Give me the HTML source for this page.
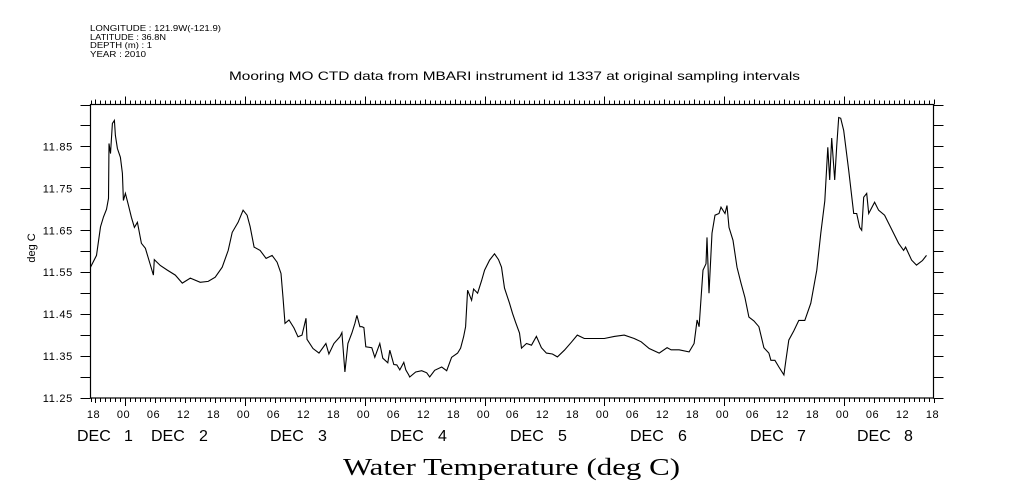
<!DOCTYPE html>
<html><head><meta charset="utf-8">
<style>
html,body{margin:0;padding:0;background:#fff;}
svg{display:block;font-family:"Liberation Sans",sans-serif;}
</style></head>
<body>
<svg id="chart" width="1009" height="504" viewBox="0 0 1009 504" xmlns="http://www.w3.org/2000/svg">
<g font-size="8.5" fill="#000">
<text x="90" y="31" textLength="131" lengthAdjust="spacingAndGlyphs">LONGITUDE : 121.9W(-121.9)</text>
<text x="90" y="40" textLength="76" lengthAdjust="spacingAndGlyphs">LATITUDE : 36.8N</text>
<text x="90" y="48" textLength="62" lengthAdjust="spacingAndGlyphs">DEPTH (m) : 1</text>
<text x="90" y="57" textLength="56" lengthAdjust="spacingAndGlyphs">YEAR : 2010</text>
</g>
<text x="229" y="80" font-size="12" textLength="571" lengthAdjust="spacingAndGlyphs">Mooring MO CTD data from MBARI instrument id 1337 at original sampling intervals</text>
<rect x="90.5" y="104.5" width="843" height="293.5" fill="none" stroke="#000" stroke-width="1.2"/>
<g id="ticks" stroke="#000" stroke-width="1"></g>
<g id="labels" font-size="11" fill="#000"></g>
<text transform="translate(35,248) rotate(-90)" font-size="11" text-anchor="middle">deg C</text>
<g font-size="16" fill="#000">
<text x="77" y="441">DEC</text><text x="124" y="441">1</text>
<text x="151" y="441">DEC</text><text x="199" y="441">2</text>
<text x="270" y="441">DEC</text><text x="318" y="441">3</text>
<text x="390" y="441">DEC</text><text x="438" y="441">4</text>
<text x="510" y="441">DEC</text><text x="558" y="441">5</text>
<text x="630" y="441">DEC</text><text x="678" y="441">6</text>
<text x="750" y="441">DEC</text><text x="797" y="441">7</text>
<text x="857" y="441">DEC</text><text x="904" y="441">8</text>
</g>
<text x="343" y="475" font-family="Liberation Serif, serif" font-size="24" textLength="337" lengthAdjust="spacingAndGlyphs">Water Temperature (deg C)</text>
<path id="series" fill="none" stroke="#000" stroke-width="1.1"/>
</svg>
<script>
const hours = [0,1.2,2,2.6,3.2,3.6,3.7,4,4.4,4.8,5,5.4,6,6.4,6.6,7,7.6,8.2,8.8,9.4,10.2,11,11.6,12.6,12.8,14,15.4,17,18.4,20,22,23.6,25,26.4,27.6,28.4,29.6,30.6,31.4,32,32.8,34,35.2,36.4,37.4,38.2,38.6,39,39.8,40.8,41.6,42.4,42.8,43.2,43.4,44.6,45.8,47.2,47.8,
48.8,50,50.4,51,51.6,52.4,53,53.4,54,54.4,54.8,55.2,56.4,57,58,58.6,59.6,60,60.8,61.4,62,62.8,63.2,63.8,64,65.2,66.4,67.4,68,69,70.4,71.4,72.4,73.6,74.2,74.8,75.2,75.6,76.4,76.8,77.6,78.4,79,80,81,81.8,82.4,83,84,84.6,85.2,86,86.4,87.4,88.4,89.4,90.4,91.4,92.6,93.6,95,96.4,97.6,99,101,103,105,107,109,110.4,112,114,
115.6,116.4,118,120,121,121.6,122,122.4,122.8,123.4,123.6,124,124.6,125.2,126,126.4,127.2,127.6,128,128.8,129.6,130.4,131.2,132,133,134,135,136,136.4,137.2,138,139,139.4,140,141,142,143.2,144.4,145.6,146.4,147.2,147.8,148.2,148.6,149.2,149.6,150,150.4,151,152,153,153.6,154.2,154.6,155,155.6,156,157.2,158,159.2,160,161,162,163,163.4,164.6,165.6,166.8,167.6];
const temps = [11.562,11.590,11.658,11.682,11.70,11.726,11.857,11.833,11.905,11.912,11.876,11.845,11.824,11.786,11.721,11.738,11.71,11.681,11.657,11.669,11.619,11.607,11.583,11.543,11.58,11.566,11.555,11.543,11.524,11.536,11.526,11.528,11.538,11.562,11.602,11.645,11.669,11.698,11.686,11.659,11.61,11.602,11.583,11.59,11.574,11.547,11.49,11.428,11.436,11.417,11.396,11.40,11.42,11.44,11.39,11.368,11.357,11.38,11.355,
11.38,11.396,11.406,11.312,11.38,11.405,11.428,11.447,11.42,11.42,11.418,11.372,11.37,11.347,11.38,11.345,11.334,11.364,11.33,11.329,11.317,11.335,11.317,11.305,11.30,11.312,11.315,11.31,11.30,11.316,11.324,11.315,11.347,11.357,11.369,11.396,11.42,11.507,11.483,11.51,11.5,11.53,11.555,11.579,11.594,11.58,11.562,11.512,11.476,11.452,11.431,11.405,11.369,11.38,11.376,11.397,11.37,11.357,11.355,11.348,11.364,11.383,11.40,11.392,11.392,11.392,11.397,11.40,11.392,11.384,11.368,11.357,
11.37,11.365,11.365,11.36,11.38,11.436,11.42,11.49,11.555,11.57,11.633,11.50,11.643,11.686,11.69,11.705,11.69,11.709,11.657,11.626,11.562,11.524,11.49,11.443,11.434,11.42,11.37,11.357,11.34,11.34,11.324,11.305,11.34,11.388,11.41,11.435,11.435,11.476,11.555,11.643,11.72,11.848,11.77,11.87,11.77,11.85,11.919,11.917,11.888,11.793,11.69,11.69,11.657,11.65,11.729,11.738,11.69,11.717,11.698,11.686,11.667,11.643,11.619,11.602,11.61,11.579,11.567,11.578,11.59];
const yTickLabels = ["11.25","11.35","11.45","11.55","11.65","11.75","11.85"];
const hourLabels = ["18","00","06","12"];
const startHourOfDay = 17;
const totalHours = 169;
const yMin = 11.25, yMax = 11.95;

const L=90.5, R=933.5, T=104.5, B=398;
function xs(h){return L + h*(R-L)/totalHours;}
function ys(v){return B - (v-yMin)*(B-T)/(yMax-yMin);}

const NS="http://www.w3.org/2000/svg";
const tg=document.getElementById('ticks'), lg=document.getElementById('labels');
function line(x1,y1,x2,y2){const l=document.createElementNS(NS,'line');l.setAttribute('x1',x1);l.setAttribute('y1',y1);l.setAttribute('x2',x2);l.setAttribute('y2',y2);


tg.appendChild(l);}
function text(x,y,s,anchor,ls){const t=document.createElementNS(NS,'text');t.setAttribute('x',x);t.setAttribute('y',y);t.setAttribute('text-anchor',anchor);if(ls)t.setAttribute('letter-spacing',ls);t.textContent=s;


lg.appendChild(t);}

for(let h=0;h<=totalHours;h++){
  const hod=(h+startHourOfDay)%24;
  const x=Math.round(xs(h))+0.5;
  const major=hod===0, six=hod%6===0;
  const len=major?8:(six?5:4);
  line(x,B,x,B+len);
  line(x,T,x,T-len);
  if(six){ text(x-2,418,hourLabels[(hod/6+1)%4],'middle','0.5'); }
}
for(let i=0;i<=14;i++){
  const v=yMin+i*0.05;
  const y=Math.round(ys(v))+0.5;
  line(L-10,y,L,y);
  line(R,y,R+10,y);
}
yTickLabels.forEach(s=>{const y=ys(parseFloat(s)); text(73,y+4,s,'end','0.7');});

let d='';
hours.forEach((h,i)=>{d+=(i?'L':'M')+xs(h).toFixed(1)+','+ys(temps[i]).toFixed(1);});
document.getElementById('series').setAttribute('d',d);
</script>
</body></html>
